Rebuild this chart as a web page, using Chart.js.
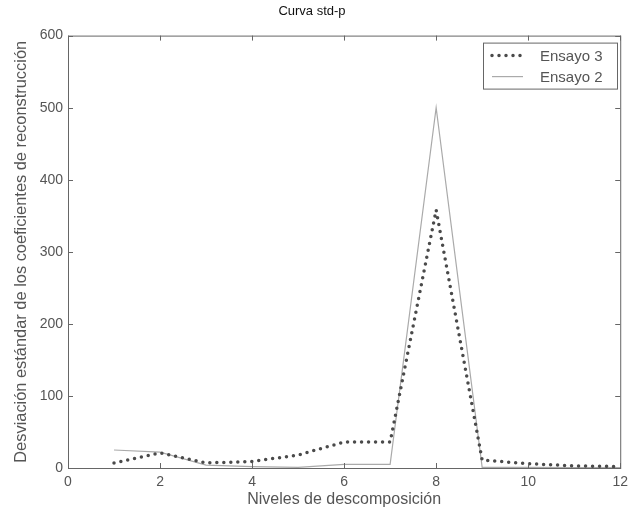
<!DOCTYPE html>
<html>
<head>
<meta charset="utf-8">
<script src="https://cdn.jsdelivr.net/npm/chart.js@4"></script>
<style>
  body { margin: 0; background: #fff; }
  #wrap { width: 634px; height: 514px; }
</style>
</head>
<body>
<div id="wrap"><canvas id="c" width="634" height="514"></canvas></div>
<script>
const levels = [1, 2, 3, 4, 5, 6, 7, 8, 9, 10, 11, 12];
const ensayo3 = [7, 21, 7, 9, 18, 36, 36, 358, 11, 6, 3, 2];
const ensayo2 = [25, 22, 4, 2, 1, 5, 5, 500, 1, 1, 0.5, 0.5];
const xTicks = [0, 2, 4, 6, 8, 10, 12];
const yTicks = [0, 100, 200, 300, 400, 500, 600];

const toPoints = vals => vals.map((v, i) => ({ x: levels[i], y: v }));
const FONT = '"Liberation Sans", Arial, sans-serif';

// box around the plot + inward tick marks
const frame = {
  id: 'frame',
  afterDraw(chart) {
    const { ctx, chartArea: a, scales } = chart;
    ctx.save();
    ctx.strokeStyle = '#666';
    ctx.lineWidth = 1;
    ctx.strokeRect(a.left + 0.5, a.top + 0.5, a.right - a.left, a.bottom - a.top);
    ctx.beginPath();
    xTicks.forEach(t => {
      const x = Math.round(scales.x.getPixelForValue(t)) + 0.5;
      ctx.moveTo(x, a.bottom); ctx.lineTo(x, a.bottom - 5);
      ctx.moveTo(x, a.top); ctx.lineTo(x, a.top + 5);
    });
    yTicks.forEach(t => {
      const y = Math.round(scales.y.getPixelForValue(t)) + 0.5;
      ctx.moveTo(a.left, y); ctx.lineTo(a.left + 5, y);
      ctx.moveTo(a.right, y); ctx.lineTo(a.right - 5, y);
    });
    ctx.stroke();
    ctx.restore();
  }
};

// legend box in the upper right corner of the plot
const boxLegend = {
  id: 'boxLegend',
  afterDraw(chart) {
    const { ctx, chartArea: a } = chart;
    const x0 = a.left + 415, y0 = a.top + 7, w = 134, h = 46;
    ctx.save();
    ctx.fillStyle = '#fff';
    ctx.fillRect(x0, y0, w, h);
    ctx.strokeStyle = '#666';
    ctx.lineWidth = 1;
    ctx.strokeRect(x0 + 0.5, y0 + 0.5, w, h);
    ctx.font = '15px ' + FONT;
    ctx.fillStyle = '#555';
    ctx.textBaseline = 'middle';
    chart.data.datasets.forEach((ds, i) => {
      const y = y0 + 13 + i * 21;
      ctx.beginPath();
      ctx.strokeStyle = ds.borderColor;
      ctx.lineWidth = ds.borderWidth;
      ctx.lineCap = ds.borderCapStyle || 'butt';
      ctx.setLineDash(ds.borderDash || []);
      ctx.moveTo(x0 + 9, y); ctx.lineTo(x0 + 40, y);
      ctx.stroke();
      ctx.setLineDash([]);
      ctx.fillText(ds.label, x0 + 57, y + 1);
    });
    ctx.restore();
  }
};

new Chart(document.getElementById('c'), {
  type: 'line',
  data: {
    datasets: [
      {
        label: 'Ensayo 3',
        data: toPoints(ensayo3),
        borderColor: '#4a4a4a',
        borderWidth: 3.5,
        borderDash: [0, 7],
        borderCapStyle: 'round',
        pointRadius: 0,
        tension: 0
      },
      {
        label: 'Ensayo 2',
        data: toPoints(ensayo2),
        borderColor: '#aaaaaa',
        borderWidth: 1.2,
        pointRadius: 0,
        tension: 0
      }
    ]
  },
  options: {
    responsive: false,
    animation: false,
    layout: { padding: { left: 0, right: 10, top: 0, bottom: 0 } },
    plugins: {
      legend: { display: false },
      tooltip: { enabled: false },
      title: {
        display: true,
        text: 'Curva std-p',
        color: '#111',
        font: { family: FONT, size: 13, weight: 'normal' },
        padding: { top: 4, bottom: 16 }
      }
    },
    scales: {
      x: {
        type: 'linear',
        min: 0, max: 12,
        afterBuildTicks: s => { s.ticks = xTicks.map(v => ({ value: v })); },
        afterFit: s => { s.height = 46; },
        grid: { display: false, drawTicks: false },
        border: { display: false },
        ticks: { color: '#555', padding: 6, font: { family: FONT, size: 14 } },
        title: {
          display: true, text: 'Niveles de descomposición', color: '#555',
          padding: { top: 0, bottom: 5 },
          font: { family: FONT, size: 16 }
        }
      },
      y: {
        min: 0, max: 600,
        afterBuildTicks: s => { s.ticks = yTicks.map(v => ({ value: v })); },
        afterFit: s => { s.width = 68; },
        grid: { display: false, drawTicks: false },
        border: { display: false },
        ticks: { color: '#555', padding: 5, font: { family: FONT, size: 14 } },
        title: {
          display: true, text: 'Desviación estándar de los coeficientes de reconstrucción', color: '#555',
          padding: { top: 12, bottom: 0 },
          font: { family: FONT, size: 16.4 }
        }
      }
    }
  },
  plugins: [frame, boxLegend]
});
</script>
</body>
</html>
